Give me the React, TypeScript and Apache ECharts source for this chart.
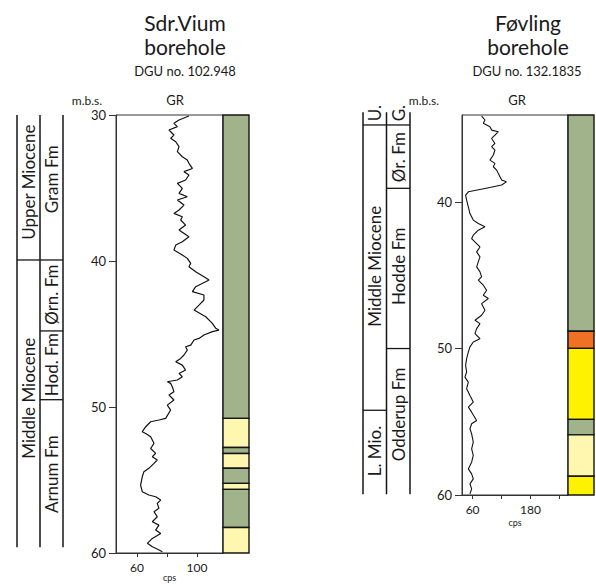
import React, { useEffect, useRef } from "react";
import * as echarts from "echarts";

const FONT = 'Lato, "Open Sans", sans-serif';
const INK = "#1a1a1a";

// ---------- Sdr. Vium (left) ----------
const leftGrDepth = [
  30.07, 30.34, 30.57, 30.8, 31.03, 31.37, 31.6, 31.83, 32.17, 32.51, 32.86, 33.08, 33.31, 33.66, 33.88,
  34.11, 34.45, 34.68, 35.03, 35.37, 35.6, 35.82, 36.17, 36.51, 36.74, 36.97, 37.19, 37.54, 37.88, 38.34,
  38.68, 38.91, 39.25, 39.59, 39.82, 40.16, 40.39, 40.73, 41.08, 41.3, 41.76, 42.1, 42.33, 42.67, 43.02,
  43.36, 43.82, 44.27, 44.6, 44.73, 44.84, 45.07, 45.3, 45.41, 45.76, 45.87, 46.1, 46.44, 46.67, 46.9,
  47.13, 47.47, 47.7, 47.93, 48.15, 48.27, 48.38, 48.61, 48.95, 49.18, 49.52, 49.87, 50.21, 50.78, 50.89,
  51.01, 51.35, 51.69, 51.81, 52.04, 52.49, 52.84, 53.18, 53.41, 53.63, 53.86, 54.2, 54.43, 54.78, 55.35,
  55.8, 56.03, 56.15, 56.37, 56.6, 56.94, 57.17, 57.52, 57.86, 58.09, 58.43, 58.66, 59.0, 59.34, 59.57,
  59.68, 59.91,
];
const leftGrValue = [
  94.6, 88, 84.6, 86.9, 81.3, 84.6, 82.4, 85.8, 88, 86.9, 90.2, 93.5, 94.6, 96.9, 91.3,
  94.6, 92.4, 86.9, 90.2, 88, 93.5, 86.9, 91.3, 88, 84.6, 90.2, 89.1, 92.4, 88, 94.6,
  90.2, 85.8, 84.6, 90.2, 93.5, 95.8, 94.6, 99.1, 104.6, 108, 99.1, 96.9, 104.6, 104.6, 101.3,
  98, 105.8, 110.2, 112.4, 114.6, 110.2, 104.6, 101.3, 98, 95.8, 92.4, 93.5, 91.3, 89.1, 85.8,
  90.2, 92.4, 88, 90.2, 86.9, 80.2, 82.4, 83.5, 84.6, 81.3, 84.6, 80.2, 82.4, 79.1, 74.6,
  69.1, 65.8, 63.5, 65.8, 69.1, 71.3, 69.1, 72.4, 70.2, 73.5, 71.3, 67.9, 64.6, 63.5, 62.4,
  63.5, 67.9, 72.4, 75.8, 73.5, 74.6, 71.3, 73.5, 70.2, 74.6, 72.4, 75.8, 70.2, 66.9, 70.2,
  72.4, 76.9,
];
const leftLithoTop = [30, 50.78, 52.77, 53.18, 54.2, 55.23, 55.64, 58.25];
const leftLithoBase = [50.78, 52.77, 53.18, 54.2, 55.23, 55.64, 58.25, 60];
const leftLithoType = ["clay", "sand", "clay", "sand", "clay", "sand", "clay", "sand"];

const leftEpochNames = ["Upper Miocene", "Middle Miocene"];
const leftEpochTop = [30, 39.93];
const leftEpochBase = [39.93, 59.6];
const leftFmNames = ["Gram Fm", "Ørn. Fm", "Hod. Fm", "Arnum Fm"];
const leftFmTop = [30, 39.93, 44.79, 49.5];
const leftFmBase = [39.93, 44.79, 49.5, 59.6];
// label placement (layout)
const leftEpochLabelAt = [34.6, 49.4];
const leftFmLabelAt = [34.4, 42.3, 47.1, 54.6];

// ---------- Føvling (right) ----------
const rightGrDepth = [
  34.15, 34.42, 34.65, 34.88, 35.11, 35.22, 35.45, 35.68, 36.02, 36.24, 36.47, 36.81, 37.16, 37.38, 37.61,
  37.84, 38.07, 38.29, 38.52, 38.64, 38.86, 39.09, 39.32, 39.55, 39.89, 40.34, 40.8, 41.25, 41.48, 41.71,
  41.94, 42.28, 42.51, 42.85, 43.08, 43.42, 43.76, 44.1, 44.44, 44.78, 45.12, 45.35, 45.69, 46.03, 46.38,
  46.6, 46.95, 47.17, 47.4, 47.74, 48.08, 48.31, 48.65, 48.99, 49.34, 49.56, 49.9, 50.25, 50.7, 51.16,
  51.61, 51.96, 52.3, 52.75, 53.21, 53.66, 54.0, 54.35, 54.92, 55.14, 55.48, 55.83, 56.39, 56.85, 57.3,
  57.76, 58.22, 58.56, 58.9, 59.24, 59.58, 59.92,
];
const rightGrValue = [
  78.7, 85.7, 82.2, 96, 99.5, 113.4, 106.4, 99.5, 106.4, 99.5, 106.4, 103, 96, 106.4, 103,
  109.9, 113.4, 116.8, 120.3, 130, 120.3, 85.7, 51.1, 45.5, 47.6, 51.1, 54.5, 61.4, 71.8, 85.7,
  71.8, 61.4, 58, 68.4, 75.3, 68.4, 75.3, 71.8, 68.4, 75.3, 78.7, 71.8, 82.2, 89.1, 82.2,
  92.6, 78.7, 82.2, 85.7, 78.7, 64.9, 75.3, 68.4, 64.9, 75.3, 61.4, 54.5, 51.1, 47.6, 45.5,
  47.6, 44.1, 51.1, 47.6, 54.5, 61.4, 51.1, 58, 68.4, 58, 54.5, 58, 61.4, 58, 61.4,
  58, 51.1, 58, 61.4, 54.5, 58, 54.5,
];
const rightLithoTop = [34.08, 48.83, 50, 54.84, 55.9, 58.72];
const rightLithoBase = [48.83, 50, 54.84, 55.9, 58.72, 60];
const rightLithoType = ["clay", "silt", "coarse", "clay", "sand", "coarse"];

const rightEpochNames = ["U.", "Middle Miocene", "L. Mio."];
const rightEpochTop = [33.9, 34.76, 54.22];
const rightEpochBase = [34.76, 54.22, 59.95];
const rightFmNames = ["G.", "Ør. Fm", "Hodde Fm", "Odderup Fm"];
const rightFmTop = [33.9, 34.76, 39.08, 50.01];
const rightFmBase = [34.76, 39.08, 50.01, 59.95];
const rightEpochLabelAt = [33.95, 44.4, 57.0];
const rightFmLabelAt = [33.95, 36.95, 44.4, 54.5];

const lithoColor: Record<string, string> = {
  clay: "#a1b38b",
  sand: "#fff7b0",
  coarse: "#fff200",
  silt: "#f07124",
};

function lithoSeries(idx: number, tops: number[], bases: number[], types: string[]) {
  return {
    type: "custom",
    xAxisIndex: idx,
    yAxisIndex: idx,
    clip: false,
    data: tops.map((t, i) => [0, t, bases[i]]),
    renderItem: (params: any, api: any) => {
      const i = params.dataIndex;
      const p0 = api.coord([0, api.value(1)]);
      const p1 = api.coord([1, api.value(2)]);
      return {
        type: "rect",
        shape: { x: p0[0], y: p0[1], width: p1[0] - p0[0], height: p1[1] - p0[1] },
        style: { fill: lithoColor[types[i]], stroke: "#151515", lineWidth: 1.4 },
      };
    },
  };
}

function stratColumn(idx: number, col: number, names: string[], tops: number[], bases: number[], labelAt: number[]) {
  return {
    type: "custom",
    xAxisIndex: idx,
    yAxisIndex: idx,
    clip: false,
    data: tops.map((t, i) => [col, t, bases[i], labelAt[i]]),
    renderItem: (params: any, api: any) => {
      const i = params.dataIndex;
      const a = api.coord([col, api.value(1)]);
      const b = api.coord([col + 1, api.value(1)]);
      const lab = api.coord([col + 0.5, api.value(3)]);
      const children: any[] = [];
      if (i > 0) {
        children.push({
          type: "line",
          shape: { x1: a[0], y1: a[1], x2: b[0], y2: b[1] },
          style: { stroke: "#151515", lineWidth: 1.3 },
        });
      }
      children.push({
        type: "text",
        x: lab[0],
        y: lab[1],
        rotation: Math.PI / 2,
        style: {
          text: names[i],
          fontSize: 17,
          fontFamily: FONT,
          fill: INK,
          align: "center",
          verticalAlign: "middle",
        },
      });
      return { type: "group", children };
    },
  };
}

function stratFrame(idx: number, top: number, bottom: number) {
  return {
    type: "custom",
    xAxisIndex: idx,
    yAxisIndex: idx,
    clip: false,
    data: [[0], [1], [2]],
    renderItem: (params: any, api: any) => {
      const x = api.value(0);
      const a = api.coord([x, top]);
      const b = api.coord([x, bottom]);
      return {
        type: "line",
        shape: { x1: a[0], y1: a[1], x2: b[0], y2: b[1] },
        style: { stroke: "#151515", lineWidth: 1.5 },
      };
    },
  };
}

function txt(text: string, x: number, y: number, size: number) {
  return {
    type: "text",
    x,
    y,
    style: { text, fontSize: size, fontFamily: FONT, fill: INK, align: "center", verticalAlign: "middle" },
  };
}

export default function App() {
  const ref = useRef<HTMLDivElement>(null);
  useEffect(() => {
    if (!ref.current) return;
    const chart = echarts.init(ref.current, null, { renderer: "svg" });

    const L = { top: 115, height: 438 };
    const R = { top: 115, height: 380 };

    const hiddenX = (min: number, max: number, gridIndex: number) => ({
      type: "value", gridIndex, min, max, show: false,
    });
    const hiddenY = (min: number, max: number, gridIndex: number) => ({
      type: "value", gridIndex, min, max, inverse: true, show: false,
    });

    const grAxisX = (gridIndex: number, min: number, max: number, ticks: number[], labels: number[], gap: number) => ({
      type: "value",
      gridIndex,
      min,
      max,
      name: "cps",
      nameLocation: "middle",
      nameGap: gap,
      nameMoveOverlap: false,
      nameTextStyle: { fontSize: 9, fontFamily: FONT, color: INK },
      axisLine: { show: true, lineStyle: { color: "#333", width: 1 } },
      axisTick: { show: true, length: 4, customValues: ticks, lineStyle: { color: "#333" } },
      axisLabel: { customValues: labels, fontSize: 12, fontFamily: FONT, color: INK, margin: 8 },
      splitLine: { show: false },
    });
    const grAxisY = (gridIndex: number, min: number, max: number, vals: number[]) => ({
      type: "value",
      gridIndex,
      min,
      max,
      inverse: true,
      axisLine: { show: true, lineStyle: { color: "#333", width: 1 } },
      axisTick: { show: true, length: 7, customValues: vals, lineStyle: { color: "#333" } },
      axisLabel: { customValues: vals, fontSize: 13, fontFamily: FONT, color: INK, margin: 10 },
      splitLine: { show: false },
    });

    const g = (left: number, width: number, top: number, height: number, box: boolean) => ({
      left,
      width,
      top,
      height,
      containLabel: false,
      outerBoundsMode: "none",
      show: box,
      borderColor: "#333",
      borderWidth: 1,
      backgroundColor: box ? "#fff" : "transparent",
    });

    const option: any = {
      animation: false,
      backgroundColor: "#fff",
      textStyle: { fontFamily: FONT },
      grid: [
        g(116, 107, L.top, L.height, true),
        g(223, 26, L.top, L.height, false),
        g(17, 46, L.top, L.height, false),
        g(462, 106, R.top, R.height, true),
        g(568, 26, R.top, R.height, false),
        g(363, 47, R.top, R.height, false),
      ],
      xAxis: [
        grAxisX(0, 46, 117.3, [60, 80, 100], [60, 100], 20),
        hiddenX(0, 1, 1),
        hiddenX(0, 2, 2),
        grAxisX(3, 38, 258, [60, 120, 180, 240], [60, 180], 23),
        hiddenX(0, 1, 4),
        hiddenX(0, 2, 5),
      ],
      yAxis: [
        grAxisY(0, 30, 60, [30, 40, 50, 60]),
        hiddenY(30, 60, 1),
        hiddenY(30, 60, 2),
        grAxisY(3, 34.08, 60, [40, 50, 60]),
        hiddenY(34.08, 60, 4),
        hiddenY(34.08, 60, 5),
      ],
      graphic: [
        txt("Sdr.Vium", 185, 22, 21),
        txt("borehole", 185, 46, 21),
        txt("DGU no. 102.948", 185, 71, 13),
        txt("m.b.s.", 87, 100, 12),
        txt("GR", 175, 100, 13),
        txt("Føvling", 528, 22, 21),
        txt("borehole", 528, 46, 21),
        txt("DGU no. 132.1835", 527, 71, 13),
        txt("m.b.s.", 424, 100, 12),
        txt("GR", 517, 100, 13),
      ],
      series: [
        {
          type: "line",
          xAxisIndex: 0,
          yAxisIndex: 0,
          data: leftGrDepth.map((d, i) => [leftGrValue[i], d]),
          showSymbol: false,
          lineStyle: { color: "#111", width: 1.2 },
        },
        lithoSeries(1, leftLithoTop, leftLithoBase, leftLithoType),
        stratFrame(2, 30, 59.6),
        stratColumn(2, 0, leftEpochNames, leftEpochTop, leftEpochBase, leftEpochLabelAt),
        stratColumn(2, 1, leftFmNames, leftFmTop, leftFmBase, leftFmLabelAt),
        {
          type: "line",
          xAxisIndex: 3,
          yAxisIndex: 3,
          data: rightGrDepth.map((d, i) => [rightGrValue[i], d]),
          showSymbol: false,
          lineStyle: { color: "#111", width: 1.1 },
        },
        lithoSeries(4, rightLithoTop, rightLithoBase, rightLithoType),
        stratFrame(5, 33.9, 59.95),
        stratColumn(5, 0, rightEpochNames, rightEpochTop, rightEpochBase, rightEpochLabelAt),
        stratColumn(5, 1, rightFmNames, rightFmTop, rightFmBase, rightFmLabelAt),
      ],
    };
    chart.setOption(option);
    return () => chart.dispose();
  }, []);

  return (
    <div
      ref={ref}
      style={{ position: "fixed", left: 0, top: 0, width: 596, height: 585, background: "#fff" }}
    />
  );
}
